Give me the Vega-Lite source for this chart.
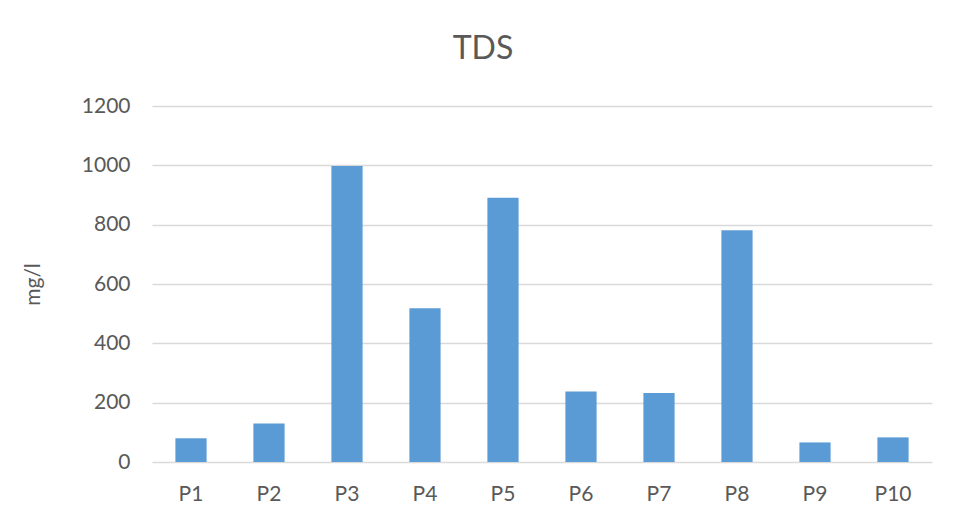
{
  "$schema": "https://vega.github.io/schema/vega-lite/v6.json",
  "width": 780,
  "height": 356,
  "autosize": {"type": "none"},
  "padding": {"left": 152, "top": 106, "right": 26, "bottom": 57},
  "background": "white",
  "title": {
    "text": "TDS",
    "font": "Lato",
    "fontSize": 32,
    "fontWeight": "normal",
    "color": "#595959",
    "anchor": "middle",
    "frame": "group",
    "dx": -59,
    "offset": 29
  },
  "config": {
    "view": {"stroke": null},
    "font": "Lato"
  },
  "data": {
    "values": [
      {"site": "P1", "tds": 80},
      {"site": "P2", "tds": 130},
      {"site": "P3", "tds": 998},
      {"site": "P4", "tds": 518},
      {"site": "P5", "tds": 891},
      {"site": "P6", "tds": 238},
      {"site": "P7", "tds": 233},
      {"site": "P8", "tds": 781},
      {"site": "P9", "tds": 66},
      {"site": "P10", "tds": 83}
    ]
  },
  "mark": {"type": "bar", "color": "#5B9BD5"},
  "encoding": {
    "x": {
      "field": "site",
      "type": "nominal",
      "sort": null,
      "scale": {"paddingInner": 0.6, "paddingOuter": 0.3},
      "axis": {
        "title": null,
        "labelAngle": 0,
        "labelFont": "Lato",
        "labelFontSize": 21,
        "labelColor": "#595959",
        "labelPadding": 21,
        "ticks": false,
        "domain": false,
        "grid": false
      }
    },
    "y": {
      "field": "tds",
      "type": "quantitative",
      "scale": {"domain": [0, 1200], "nice": false},
      "axis": {
        "title": "mg/l",
        "titleFont": "Lato",
        "titleFontSize": 21,
        "titleFontWeight": "normal",
        "titleColor": "#595959",
        "titlePadding": 38,
        "format": "d",
        "values": [0, 200, 400, 600, 800, 1000, 1200],
        "labelFont": "Lato",
        "labelFontSize": 21,
        "labelColor": "#595959",
        "labelPadding": 22,
        "ticks": false,
        "domain": false,
        "grid": true,
        "gridColor": "#D9D9D9",
        "gridWidth": 1.5
      }
    }
  }
}
